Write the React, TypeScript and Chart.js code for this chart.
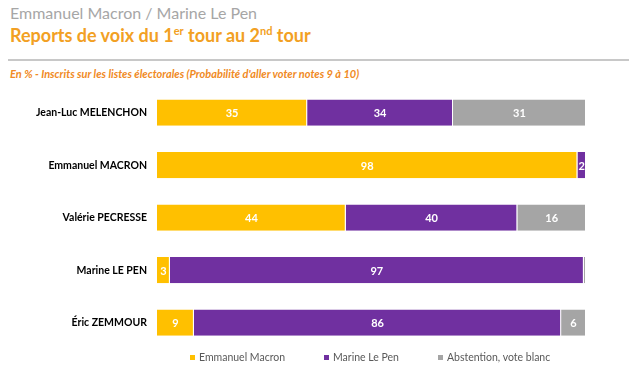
import React, { useEffect, useRef } from "react";
import { Chart, registerables } from "chart.js";
Chart.register(...registerables);

const categories = ["Jean-Luc MELENCHON", "Emmanuel MACRON", "Valérie PECRESSE", "Marine LE PEN", "Éric ZEMMOUR"];
const seriesNames = ["Emmanuel Macron", "Marine Le Pen", "Abstention, vote blanc"];
const macronValues = [35, 98, 44, 3, 8.6];
const lePenValues = [34, 2, 40, 96.5, 85.6];
const abstentionValues = [31, 0, 16, 0.5, 5.8];
const colors = ["#FFC000", "#7030A0", "#A5A5A5"];
const legendX = [190, 324, 438];

const FONT = "Lato, 'Open Sans', sans-serif";

const labelPlugin = {
  id: "barLabels",
  afterDatasetsDraw(chart: any) {
    const ctx = chart.ctx;
    ctx.save();
    ctx.font = `bold 11px ${FONT}`;
    ctx.fillStyle = "#ffffff";
    ctx.textAlign = "center";
    ctx.textBaseline = "middle";
    chart.data.datasets.forEach((ds: any, di: number) => {
      const meta = chart.getDatasetMeta(di);
      meta.data.forEach((bar: any, i: number) => {
        const v = ds.data[i];
        if (v < 1.5) return;
        const cx = (bar.x + bar.base) / 2;
        ctx.fillText(String(Math.round(v)), cx, bar.y + 1);
      });
    });
    ctx.restore();
  },
};

export default function App() {
  const ref = useRef<HTMLCanvasElement>(null);
  useEffect(() => {
    const chart = new Chart(ref.current!, {
      type: "bar",
      data: {
        labels: categories,
        datasets: [macronValues, lePenValues, abstentionValues].map((d, i) => ({
          label: seriesNames[i],
          data: d,
          backgroundColor: colors[i],
          borderColor: "#ffffff",
          borderWidth: { top: 0, bottom: 0, left: 0, right: 1 },
          borderSkipped: false,
          barPercentage: 0.5,
          categoryPercentage: 1,
        })),
      },
      options: {
        indexAxis: "y",
        animation: false,
        responsive: false,
        layout: { padding: { top: 7, right: 43, bottom: 31, left: 0 } },
        scales: {
          x: { stacked: true, min: 0, max: 100, display: false },
          y: {
            stacked: true,
            grid: { display: false, drawTicks: false },
            border: { display: false },
            ticks: { color: "#000000", font: { family: FONT, size: 10.5, weight: "bold" }, padding: 10 },
            afterFit: (s: any) => { s.width = 157; },
          },
        },
        plugins: {
          legend: { display: false },
          tooltip: { enabled: false },
        },
      },
      plugins: [labelPlugin],
    });
    return () => chart.destroy();
  }, []);
  return (
    <div style={{ position: "absolute", left: 0, top: 0, width: 629, height: 380, background: "#fff", fontFamily: FONT }}>
      <div style={{ position: "absolute", left: 10, top: 3, fontSize: 16, color: "#A6A6A6", whiteSpace: "nowrap" }}>
        Emmanuel Macron / Marine Le Pen
      </div>
      <div style={{ position: "absolute", left: 10, top: 24, fontSize: 18, fontWeight: "bold", color: "#F2A023", whiteSpace: "nowrap" }}>
        Reports de voix du 1<sup style={{ fontSize: 11 }}>er</sup> tour au 2<sup style={{ fontSize: 11 }}>nd</sup> tour
      </div>
      <div style={{ position: "absolute", left: 8, top: 59, width: 621, height: 2, background: "#C8C8C8" }} />
      <div style={{ position: "absolute", left: 10, top: 67, fontSize: 11, fontStyle: "italic", fontWeight: "bold", color: "#F08A24", whiteSpace: "nowrap" }}>
        En % - Inscrits sur les listes électorales (Probabilité d'aller voter notes 9 à 10)
      </div>
      <canvas ref={ref} width={629} height={310} style={{ position: "absolute", left: 0, top: 70 }} />
      {seriesNames.map((n, i) => (
        <div key={n} style={{ position: "absolute", left: legendX[i], top: 349, height: 16, display: "flex", alignItems: "center", whiteSpace: "nowrap", fontSize: 10.5, color: "#595959" }}>
          <span style={{ display: "inline-block", width: 5, height: 5, background: colors[i], marginRight: 4 }} />
          {n}
        </div>
      ))}
    </div>
  );
}
